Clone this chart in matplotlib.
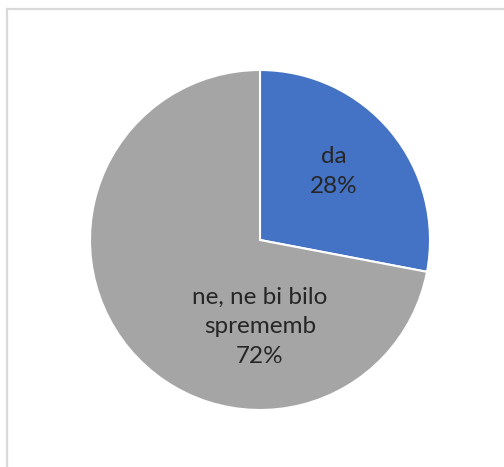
import matplotlib.pyplot as plt
import numpy as np
from matplotlib.lines import Line2D

labels = ["da", "ne, ne bi bilo\nsprememb"]
shares = [28, 72]
colors = ["#4472C4", "#A5A5A5"]

plt.rcParams["font.family"] = ["Lato", "DejaVu Sans"]

fig = plt.figure(figsize=(5.04, 4.67), dpi=100)

# thin grey frame along the top and left edges
fig.add_artist(Line2D([7 / 504, 7 / 504], [0, 1 - 9 / 467], transform=fig.transFigure,
                      color="#D9D9D9", lw=1.6))
fig.add_artist(Line2D([7 / 504, 1], [1 - 9 / 467, 1 - 9 / 467], transform=fig.transFigure,
                      color="#D9D9D9", lw=1.6))

ax = fig.add_axes([90 / 504, 57 / 467, 340 / 504, 340 / 467])
wedges, _ = ax.pie(shares, colors=colors, startangle=90, counterclock=False,
                   wedgeprops=dict(edgecolor="white", linewidth=1.5))

# label radius / angle per slice (data units of the pie)
label_pos = [(0.59, 43), (0.51, -90)]
for w, lab, val, (r, ang) in zip(wedges, labels, shares, label_pos):
    x = r * np.cos(np.radians(ang))
    y = r * np.sin(np.radians(ang))
    ax.text(x, y, f"{lab}\n{val}%", ha="center", va="center", fontsize=17.5,
            color="#262626", linespacing=1.5)

ax.set_xlim(-1, 1)
ax.set_ylim(-1, 1)

fig.savefig("out.png", dpi=100)
